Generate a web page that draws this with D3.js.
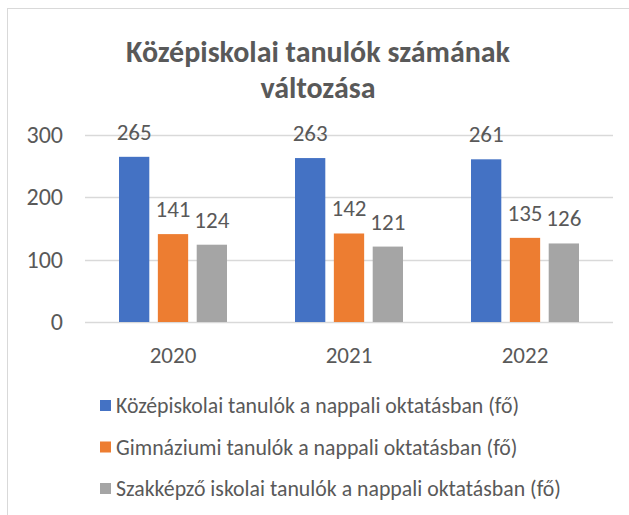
<!DOCTYPE html>
<html>
<head>
<meta charset="utf-8">
<script src="https://cdn.jsdelivr.net/npm/d3@7"></script>
<style>
  body { margin: 0; background: #fff; }
  svg text { font-family: Carlito, Calibri, Lato, "Liberation Sans", sans-serif; fill: #595959; }
</style>
</head>
<body>
<div id="chart"></div>
<script>
var years = ["2020", "2021", "2022"];
var seriesNames = [
  "Középiskolai tanulók a nappali oktatásban (fő)",
  "Gimnáziumi tanulók a nappali oktatásban (fő)",
  "Szakképző iskolai tanulók a nappali oktatásban (fő)"
];
var kozepiskolai = [265, 263, 261];
var gimnaziumi = [141, 142, 135];
var szakkepzo = [124, 121, 126];
var colors = ["#4472c4", "#ed7d31", "#a5a5a5"];
var yTicks = [0, 100, 200, 300];

var width = 629, height = 515;

var svg = d3.select("#chart")
    .append("svg")
    .attr("width", width)
    .attr("height", height)

// chart frame
svg.append("rect")
    .attr("x", 7.5).attr("y", 8.5)
    .attr("width", 640).attr("height", 540)
    .attr("fill", "none")
    .attr("stroke", "#d9d9d9")

// title
var title = svg.append("text")
    .attr("x", 318)
    .attr("text-anchor", "middle")
    .style("font-size", "30px")
    .style("font-weight", "bold")
title.append("tspan").attr("x", 318).attr("y", 62).text("Középiskolai tanulók számának")
title.append("tspan").attr("x", 318).attr("y", 98).text("változása")

var x = d3.scaleBand().domain(years).range([85, 613]).paddingInner(0).paddingOuter(0)
var y = d3.scaleLinear().domain([0, 300]).range([322, 135])

var series = [kozepiskolai, gimnaziumi, szakkepzo]
var x1 = d3.scaleBand().domain([0, 1, 2]).range([34, 142]).paddingInner(0.22)

// gridlines
svg.append("g")
    .selectAll("line")
    .data(yTicks)
    .enter()
    .append("line")
    .attr("x1", 85).attr("x2", 613)
    .attr("y1", function(d){ return Math.round(y(d)) + 0.5 })
    .attr("y2", function(d){ return Math.round(y(d)) + 0.5 })
    .attr("stroke", "#d9d9d9")
    .attr("stroke-width", 1.5)

// y axis labels
svg.append("g")
    .selectAll("text")
    .data(yTicks)
    .enter()
    .append("text")
    .attr("x", 63)
    .attr("y", function(d){ return y(d) + 8 })
    .attr("text-anchor", "end")
    .style("font-size", "24px")
    .text(function(d){ return d })

// bars
series.forEach(function(vals, s) {
    var g = svg.append("g")
    g.selectAll("rect")
        .data(vals)
        .enter()
        .append("rect")
        .attr("x", function(d, i){ return x(years[i]) + x1(s) })
        .attr("y", function(d){ return y(d) })
        .attr("width", x1.bandwidth())
        .attr("height", function(d){ return y(0) - y(d) })
        .attr("fill", colors[s])
    g.selectAll("text")
        .data(vals)
        .enter()
        .append("text")
        .attr("x", function(d, i){ return x(years[i]) + x1(s) + x1.bandwidth() / 2 })
        .attr("y", function(d){ return y(d) - 17 })
        .attr("text-anchor", "middle")
        .style("font-size", "23px")
        .text(function(d){ return d })
})

// category labels
svg.append("g")
    .selectAll("text")
    .data(years)
    .enter()
    .append("text")
    .attr("x", function(d){ return x(d) + x.bandwidth() / 2 })
    .attr("y", 363)
    .attr("text-anchor", "middle")
    .style("font-size", "23px")
    .text(function(d){ return d })

// legend
var legend = svg.append("g")
    .selectAll("g")
    .data(seriesNames)
    .enter()
    .append("g")
    .attr("transform", function(d, i){ return "translate(100," + (406 + i * 41.5) + ")" })
legend.append("rect")
    .attr("x", 0).attr("y", -6)
    .attr("width", 11).attr("height", 11)
    .attr("fill", function(d, i){ return colors[i] })
legend.append("text")
    .attr("x", 16).attr("y", 7)
    .style("font-size", "21.8px")
    .text(function(d){ return d })
</script>
</body>
</html>
